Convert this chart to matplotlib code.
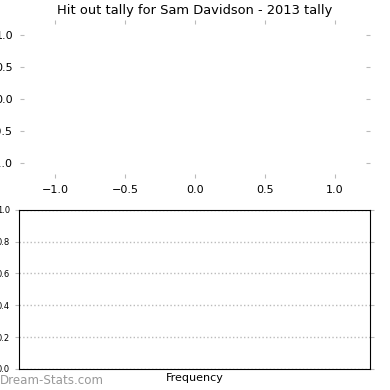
import matplotlib
matplotlib.use("Agg")
import matplotlib.pyplot as plt

player = "Sam Davidson"
season = 2013
# no hit outs recorded for the season, so both panels are empty
hit_outs = []
frequency = []

fig = plt.figure(figsize=(3.9, 3.9), dpi=100)

# top panel: empty pie area
ax_top = fig.add_axes([0.0513, 0.5436, 0.897, 0.405], frameon=False)
if hit_outs:
    ax_top.pie(hit_outs)
ax_top.set_xlim(-1.25, 1.25)
ax_top.set_ylim(-1.225, 1.225)
ax_top.set_xticks([-1.0, -0.5, 0.0, 0.5, 1.0])
ax_top.set_yticks([-1.0, -0.5, 0.0, 0.5, 1.0])
ax_top.tick_params(axis="both", labelsize=8, color="#bbbbbb", length=3,
                   direction="in", pad=5, top=True, right=True)
ax_top.set_title(f"Hit out tally for {player} - {season} tally", fontsize=9.4,
                 pad=4)

# bottom panel: frequency histogram
ax_bot = fig.add_axes([0.049, 0.054, 0.9, 0.408])
ax_bot.hist(frequency)
ax_bot.set_xlim(0, 1)
ax_bot.set_ylim(0, 1)
ax_bot.set_xticks([])
ax_bot.set_yticks([0.0, 0.2, 0.4, 0.6, 0.8, 1.0])
ax_bot.tick_params(axis="y", labelsize=6, color="#bbbbbb", length=3,
                   right=True)
ax_bot.grid(axis="y", linestyle=":", color="#bbbbbb", linewidth=1)
ax_bot.set_axisbelow(True)
ax_bot.set_xlabel("Frequency", fontsize=8, labelpad=3)

fig.text(0.0, 0.008, "Dream-Stats.com", fontsize=8.6, color="#999999",
         ha="left", va="bottom")

fig.savefig("out.png", dpi=100)
